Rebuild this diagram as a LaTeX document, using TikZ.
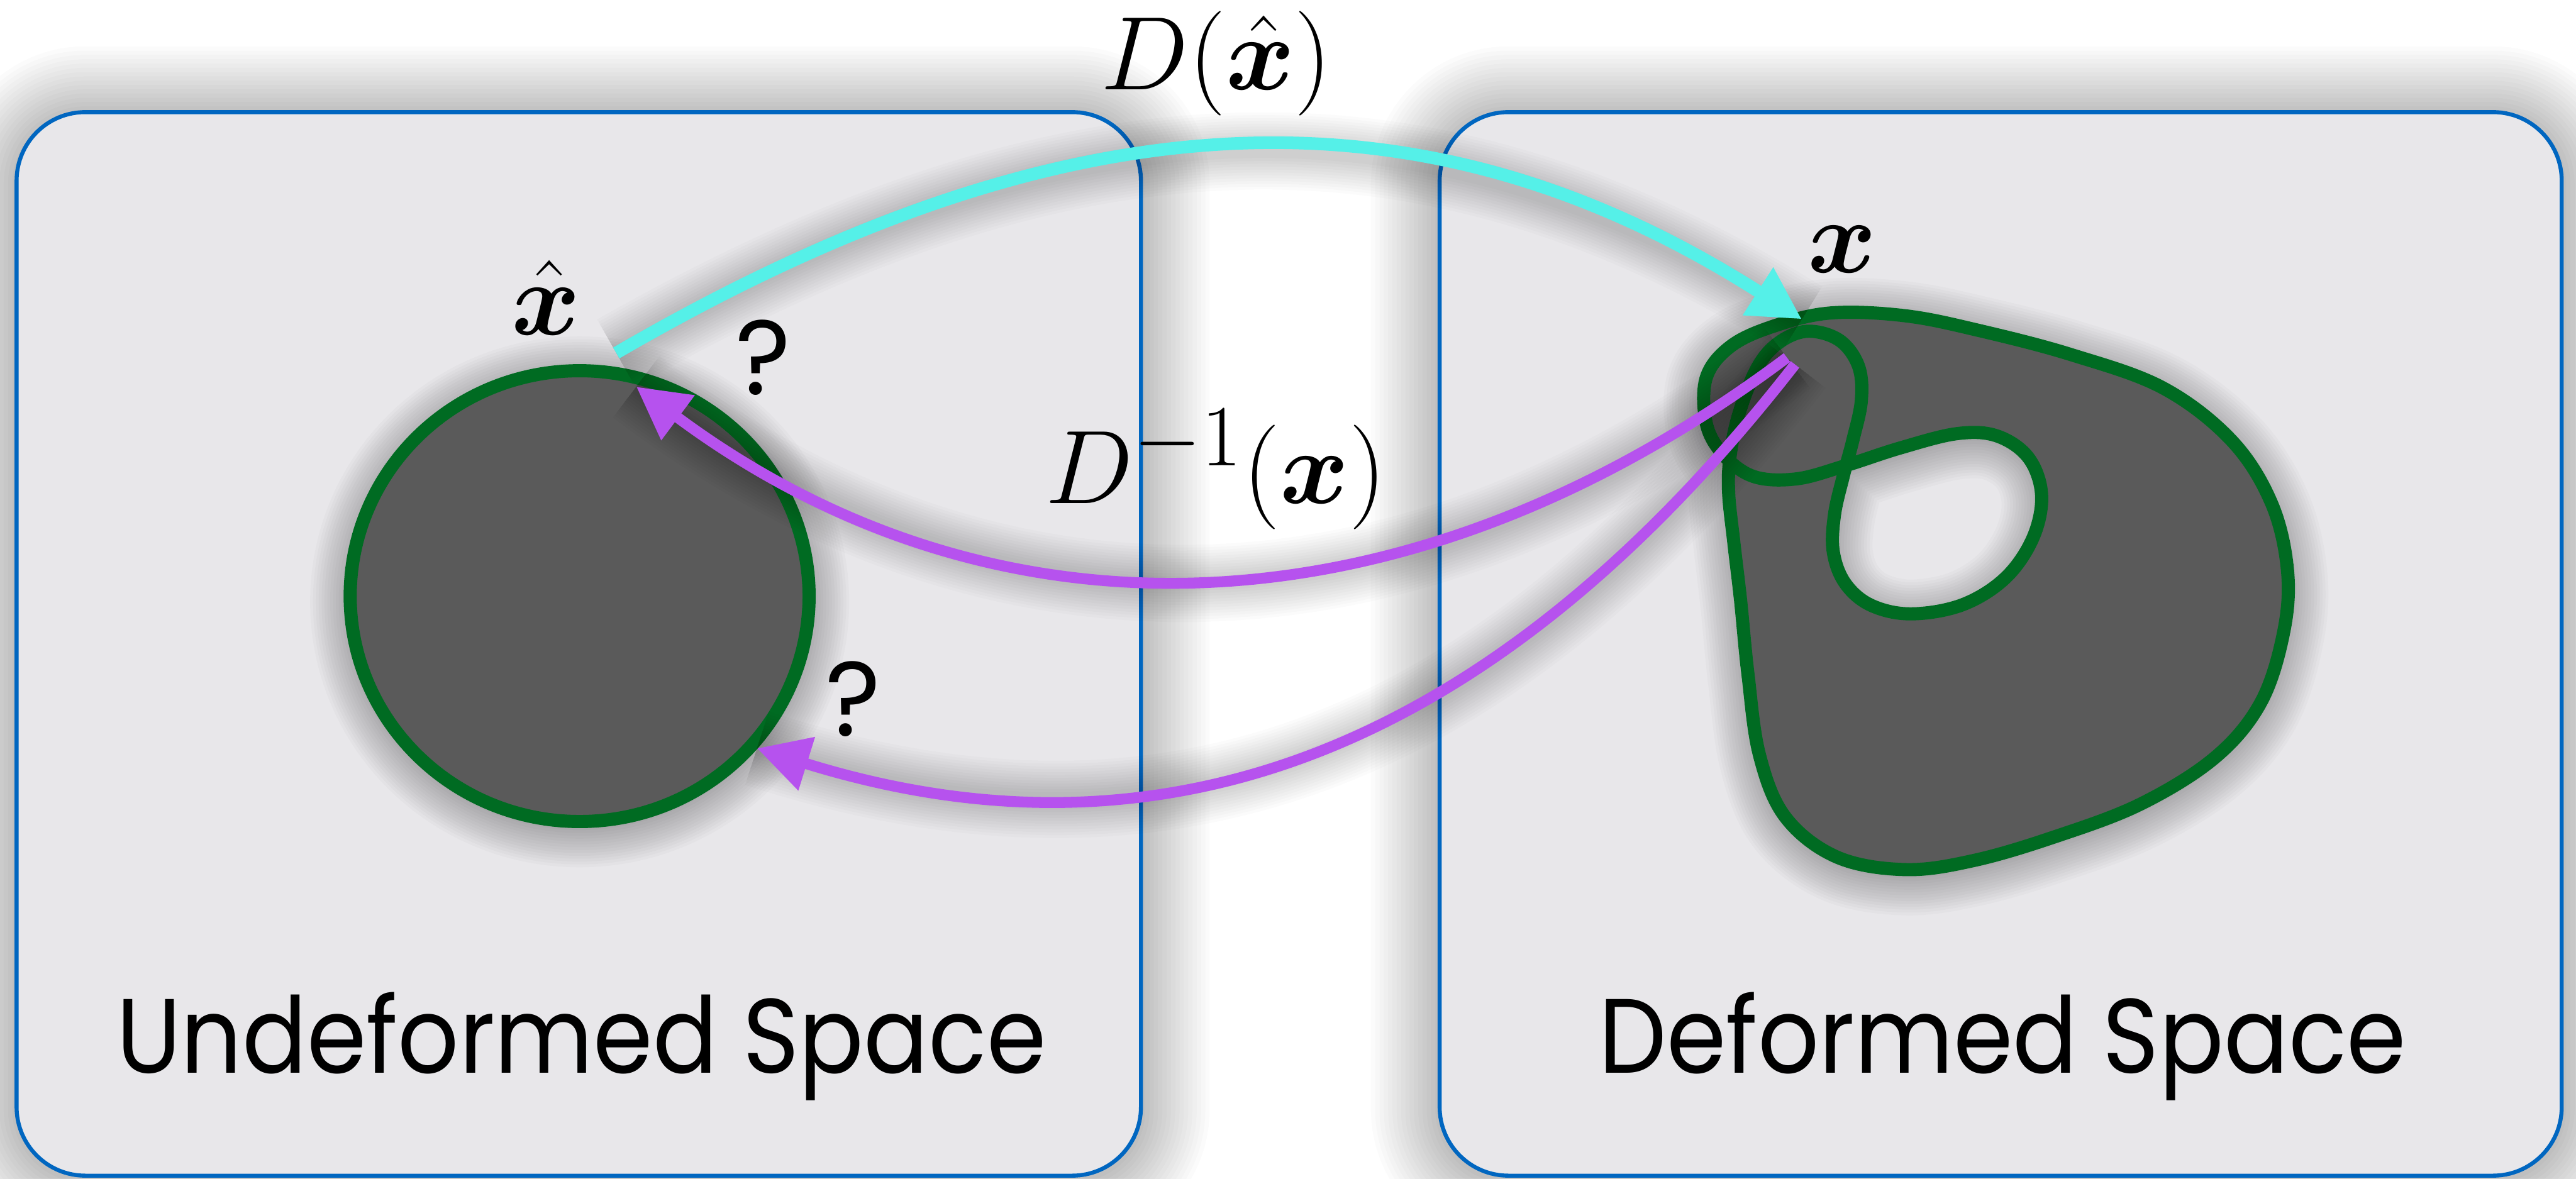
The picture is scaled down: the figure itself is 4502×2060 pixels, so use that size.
\documentclass[tikz,border=0pt]{standalone}
\usepackage[no-math]{fontspec}
\usepackage{bm}
\newfontfamily\spacefont{Poppins}
\usetikzlibrary{arrows.meta}
\definecolor{panelfill}{HTML}{E8E7EA}
\definecolor{panelborder}{HTML}{0066C0}
\definecolor{blobfill}{HTML}{5A5A5A}
\definecolor{blobline}{HTML}{006B22}
\definecolor{cyanarrow}{HTML}{55F0E8}
\definecolor{purplearrow}{HTML}{B652EE}
\newcommand\blobcurve{plot[smooth cycle, tension=0.6] coordinates {(3042,1050) (3030,947) (3021,860) (3024,794) (3040,720) (3072,641) (3110,598) (3160,579) (3215,595) (3248,640) (3253,700) (3238,770) (3222,830) (3206,900) (3204,965) (3225,1020) (3270,1058) (3340,1073) (3430,1057) (3505,1010) (3553,940) (3568,865) (3545,800) (3490,762) (3420,758) (3321,783) (3225,814) (3140,837) (3065,833) (3012,795) (2982,740) (2982,660) (3025,605) (3100,570) (3200,547) (3330,552) (3460,578) (3620,620) (3780,678) (3900,770) (3970,880) (3998,1000) (3990,1110) (3950,1230) (3870,1325) (3740,1406) (3590,1463) (3450,1504) (3330,1520) (3210,1498) (3120,1428) (3075,1320) (3055,1180)}}
\newcommand\bigmath[1]{\scalebox{2.09}{$#1$}}
\tikzset{
  panelbox/.style={fill=panelfill, draw=panelborder, line width=0.7mm, rounded corners=12mm},
  greenshape/.style={fill=blobfill, draw=blobline, line width=2.3mm},
  softshade/.style={black, opacity=#1},
  softshade/.default=0.016,
  cyanline/.style={draw=cyanarrow, line width=2.2mm, -{Triangle[length=9.1mm,width=9.3mm]}},
  purpleline/.style={draw=purplearrow, line width=1.9mm, -{Triangle[length=9.1mm,width=9.3mm]}},
  spacelabel/.style={font=\spacefont\fontsize{52.6}{63}\selectfont, inner sep=0pt, anchor=base},
  mathlabel/.style={font=\fontsize{24.88}{30}\selectfont, inner sep=0pt, anchor=base},
}
\begin{document}
\begin{tikzpicture}[x=0.1mm, y=-0.1mm, line join=round]
\useasboundingbox (0,0) rectangle (4502,2060);
\fill[white] (0,0) rectangle (4502,2060);

% panel halos
\foreach \w in {1.5,3,...,24} {
  \draw[softshade=0.015, line width=\w mm, rounded corners=12mm, yshift=-0.5mm] (29,196) rectangle (1994,2055);
  \draw[softshade=0.015, line width=\w mm, rounded corners=12mm, yshift=-0.5mm] (2516,196) rectangle (4477,2055);
}
\draw[panelbox] (29,196) rectangle (1994,2055);
\draw[panelbox] (2516,196) rectangle (4477,2055);

% left disc
\foreach \w in {1,2,...,14} {
  \draw[softshade=0.018, line width=\w mm, yshift=-1mm] (1013,1042) ellipse [x radius=401, y radius=394];
}
\draw[greenshape] (1013,1042) ellipse [x radius=401, y radius=394];

% right blob
\foreach \w in {1,2,...,14} {
  \draw[softshade=0.018, line width=\w mm, yshift=-1mm] \blobcurve;
}
\draw[greenshape] \blobcurve;

% arrow end points
\coordinate (cstart) at (1077,617);
\coordinate (cend) at (3149,558);
\coordinate (pstartA) at (3123,625);
\coordinate (ptipA) at (1112,676);
\coordinate (pstartB) at (3137,637);
\coordinate (ptipB) at (1323,1308);

% arrow halos
\foreach \w in {2.5,3.5,...,14} {
  \draw[softshade=0.014, line width=\w mm, yshift=-1mm] (cstart) .. controls (1861,161) and (2482,133) .. (cend);
  \draw[softshade=0.014, line width=\w mm, yshift=-1mm] (pstartA) .. controls (2449,1130) and (1729,1135) .. (ptipA);
  \draw[softshade=0.014, line width=\w mm, yshift=-1mm] (pstartB) .. controls (2614,1308) and (2039,1531) .. (ptipB);
}

% arrows
\draw[cyanline] (cstart) .. controls (1861,161) and (2482,133) .. (cend);
\draw[purpleline] (pstartA) .. controls (2449,1130) and (1729,1135) .. (ptipA);
\draw[purpleline] (pstartB) .. controls (2614,1308) and (2039,1531) .. (ptipB);

% labels
\node[mathlabel] (Dlab) at (2126,157) {\bigmath{D(\hat{\bm{x}})}};
\node[mathlabel] (xhatlab) at (954,585) {\bigmath{\hat{\bm{x}}}};
\node[mathlabel] (xlab) at (3220,476) {\bigmath{\bm{x}}};
\node[mathlabel] (Dinvlab) at (2125,880) {\bigmath{D^{-1}(\bm{x})}};
\node[spacelabel] (qone) at (1334,690) {?};
\node[spacelabel] (qtwo) at (1491,1287) {?};
\node[spacelabel] (undef) at (1016,1876) {\scalebox{0.905}[1]{Undeformed Space}};
\node[spacelabel] (def) at (3500,1876) {\scalebox{0.905}[1]{Deformed Space}};
\end{tikzpicture}
\end{document}
